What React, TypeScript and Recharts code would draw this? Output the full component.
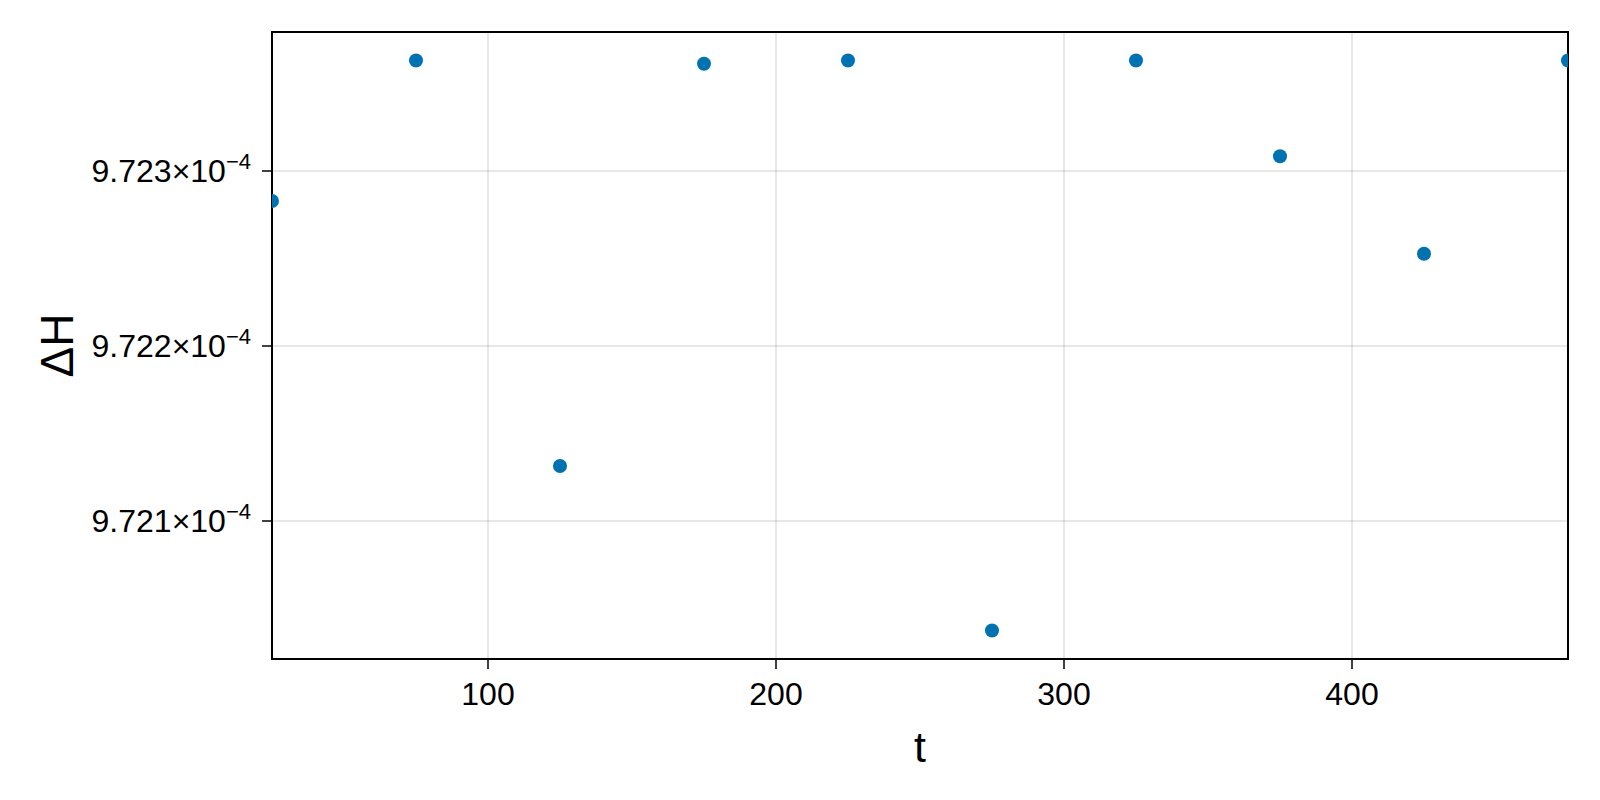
import React from 'react';
import {
  ScatterChart, Scatter, XAxis, YAxis, CartesianGrid, ReferenceArea,
} from 'recharts';

const tValues = [25, 75, 125, 175, 225, 275, 325, 375, 425, 475];
const deltaH = [
  9.7228286e-4, 9.7236314e-4, 9.7213143e-4, 9.7236131e-4, 9.7236314e-4,
  9.720374e-4, 9.7236314e-4, 9.723084e-4, 9.7225274e-4, 9.7236314e-4,
];
const xTicks = [100, 200, 300, 400];
const yTicks = [9.721e-4, 9.722e-4, 9.723e-4];
const xDomain: [number, number] = [25, 475];
const yDomain: [number, number] = [9.7202114e-4, 9.7237943e-4];

const FONT = '"Liberation Sans", Arial, Helvetica, sans-serif';
const DOT = '#0072b2';

const data = tValues.map((t, i) => ({ t, dH: deltaH[i] }));

function YTick({ x, y, payload }: { x: number; y: number; payload: { value: number } }) {
  const mant = (payload.value * 1e4).toFixed(3);
  return (
    <text x={x} y={y + 11} textAnchor="end" fontSize={32} fontFamily={FONT} fill="#000">
      {mant}×10
      <tspan dy={-13} fontSize={22}>−4</tspan>
    </text>
  );
}

function Dot({ cx, cy }: { cx?: number; cy?: number }) {
  return <circle cx={cx} cy={cy} r={7} fill={DOT} />;
}

export default function App() {
  return (
    <div style={{ position: 'absolute', left: 0, top: 0, width: 1600, height: 800, background: '#fff' }}>
      <ScatterChart
        width={1600}
        height={800}
        margin={{ top: 32, right: 32, bottom: 0, left: 0 }}
      >
        <CartesianGrid stroke="rgba(0,0,0,0.12)" strokeWidth={1.5} />
        <XAxis
          dataKey="t"
          type="number"
          domain={xDomain}
          ticks={xTicks}
          allowDataOverflow
          height={141}
          axisLine={false}
          tickSize={10}
          tickMargin={13}
          tickLine={{ stroke: '#000', strokeWidth: 1.5 }}
          tick={{ fill: '#000', fontSize: 32, fontFamily: FONT }}
          label={{
            content: ({ viewBox }: any) => (
              <text
                x={viewBox.x + viewBox.width / 2}
                y={762}
                textAnchor="middle"
                fontSize={43}
                fontFamily={FONT}
                fill="#000"
              >
                t
              </text>
            ),
          }}
        />
        <YAxis
          dataKey="dH"
          type="number"
          domain={yDomain}
          ticks={yTicks}
          allowDataOverflow
          width={272}
          axisLine={false}
          tickSize={10}
          tickMargin={11}
          tickLine={{ stroke: '#000', strokeWidth: 1.5 }}
          tick={(p: any) => <YTick {...p} />}
          label={{
            content: ({ viewBox }: any) => {
              const cy = viewBox.y + viewBox.height / 2;
              return (
                <text
                  x={73}
                  y={cy}
                  transform={`rotate(-90, 73, ${cy})`}
                  textAnchor="middle"
                  fontSize={46}
                  fontFamily={FONT}
                  fill="#000"
                >
                  ΔH
                </text>
              );
            },
          }}
        />
        <Scatter data={data} fill={DOT} shape={Dot} isAnimationActive={false} />
        <ReferenceArea
          x1={xDomain[0]}
          x2={xDomain[1]}
          y1={yDomain[0]}
          y2={yDomain[1]}
          fill="none"
          stroke="#000"
          strokeWidth={2}
          ifOverflow="visible"
        />
      </ScatterChart>
    </div>
  );
}
